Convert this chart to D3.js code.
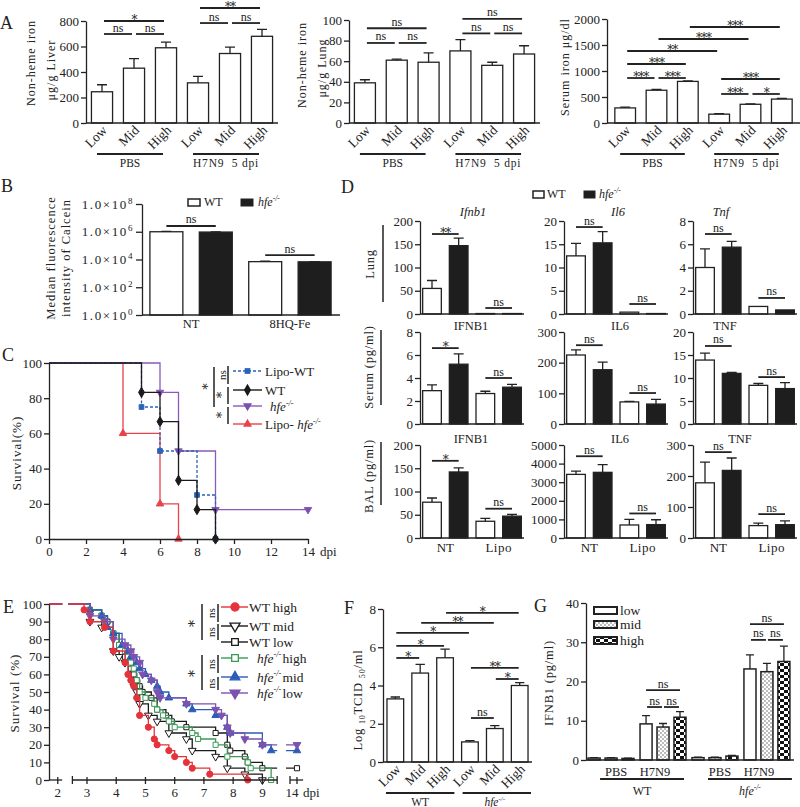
<!DOCTYPE html>
<html><head><meta charset="utf-8">
<script src="https://cdn.jsdelivr.net/npm/d3@7"></script>
<style>body{margin:0;background:#fff} text{-webkit-font-smoothing:antialiased;font-variant-emoji:text}</style>
</head><body><script>
// ================= DATA =================
// Panel A
const levelsA = ["Low","Mid","High"];
const catsA = ["PBS-Low","PBS-Mid","PBS-High","H7N9-Low","H7N9-Mid","H7N9-High"];
const liverIron = [245,430,590,315,545,680];
const liverErr  = [300,505,635,365,595,735];
const lungIron  = [39,61,59,70,56,67];
const lungErr   = [42,62,68,81,59,75];
const serumIron = [290,630,800,170,360,460];
const serumErr  = [305,645,810,180,368,475];
const liverSig = [[0,1,698,"ns"],[1,2,698,"ns"],[0,2,800,"*"],[3,4,784,"ns"],[4,5,784,"ns"],[3,5,902,"**"]];
const lungSig  = [[0,1,77.7,"ns"],[1,2,77.7,"ns"],[0,2,92,"ns"],[3,4,87,"ns"],[4,5,87,"ns"],[3,5,101,"ns"]];
const serumSig = [[0,1,865,"***"],[1,2,865,"***"],[0,2,1135,"***"],[0,3,1385,"**"],[1,4,1615,"***"],[2,5,1846,"***"],[3,4,558,"***"],[4,5,558,"*"],[3,5,846,"***"]];
// Panel B
const catsB = ["NT-WT","NT-hfe","8HQ-WT","8HQ-hfe"];
const groupsB = ["NT","8HQ-Fe"];
const calcein = [1.0e6, 0.95e6, 7.0e3, 6.8e3];
const calceinErr = [1.08e6, 0.97e6, 7.6e3, 7.0e3];
const bTicks = [1,1e2,1e4,1e6,1e8];
const bSig = [[0,1,2.6e6,"ns"],[2,3,2.1e4,"ns"]];
// Panel C
const cLipoWT  = [[5,75],[6,50],[8,25],[9,0]];
const cWT      = [[5,83.3],[6,66.7],[7,33.3],[8,16.7],[9,0]];
const cHfe     = [[6,83.3],[7,50],[9,16.7]];
const cLipoHfe = [[4,60],[6,20],[7,0]];
const cTicksX = [0,2,4,6,8,10,12,14];
const cTicksY = [0,20,40,60,80,100];
// Panel D
const dCats = ["NT-WT","NT-hfe","Lipo-WT","Lipo-hfe"];
const lungIfnb1 = [55,147,1,1],      lungIfnb1Err = [72,163,1,1];
const lungIl6   = [12.5,15.3,0.4,0.1], lungIl6Err = [15.2,17.7,0.4,0.1];
const lungTnf   = [4.0,5.75,0.65,0.35], lungTnfErr = [5.6,6.25,0.65,0.35];
const serIFNB1  = [2.9,5.2,2.65,3.2],  serIFNB1Err = [3.4,6.1,2.85,3.45];
const serIL6    = [225,177,72,65],     serIL6Err = [242,202,74,80];
const serTNF    = [13.9,11.0,8.4,7.7], serTNFErr = [15.4,11.2,8.8,9.0];
const balIFNB1  = [77,142,36,47],      balIFNB1Err = [86,151,42,51];
const balIL6    = [3420,3530,700,720], balIL6Err = [3600,3950,1000,980];
const balTNF    = [178,218,40,43],     balTNFErr = [245,258,48,55];
// Panel E
const wtHighSurv = [[2.9,96.7],[3.1,90],[3.6,86.7],[3.9,73.3],[4.3,66.7],[4.4,60],[4.5,56.7],[4.6,53.3],[4.7,46.7],[4.8,36.7],[5.1,30],[5.3,23.3],[5.4,20],[5.8,16.7],[6.0,13.3],[6.4,10],[6.6,6.7],[7.2,3.3],[8.5,0]];
const wtMidSurv  = [[3.1,90],[3.5,86.7],[3.9,73.3],[4.1,70],[4.3,66.7],[4.5,60],[4.6,53.3],[4.7,50],[4.8,43.3],[5.1,36.7],[5.4,33.3],[5.8,26.7],[6.4,23.3],[6.6,16.7],[7.4,13.3],[7.8,6.7],[8.4,3.3],[9.0,0]];
const wtLowSurv  = [[3.1,96.7],[3.5,93.3],[3.7,90],[3.9,83.3],[4.1,76.7],[4.3,70],[4.5,63.3],[4.6,60],[4.7,56.7],[4.8,53.3],[4.9,50],[5.2,46.7],[5.4,40],[5.7,36.7],[5.9,33.3],[6.4,30],[7.4,26.7],[7.8,20],[7.9,16.7],[8.4,13.3],[8.5,10],[9.0,6.7]];
const hfeHighSurv= [[3.1,96.7],[3.5,93.3],[3.6,90],[3.9,83.3],[4.1,76.7],[4.3,73.3],[4.4,70],[4.5,66.7],[4.6,63.3],[4.7,56.7],[4.8,50],[5.0,46.7],[5.3,43.3],[5.4,40],[5.6,36.7],[5.8,33.3],[6.0,30],[6.6,26.7],[6.8,23.3],[7.4,20],[7.8,13.3],[8.5,10],[8.6,6.7],[9.3,0]];
const hfeMidSurv = [[3.1,96.7],[3.5,93.3],[3.7,86.7],[3.9,83.3],[4.2,76.7],[4.4,73.3],[4.5,70],[4.7,66.7],[4.8,63.3],[5.0,60],[5.2,56.7],[5.4,53.3],[5.5,50],[5.8,46.7],[6.4,43.3],[6.6,40],[7.4,36.7],[7.8,30],[7.9,26.7],[9.0,20],[9.3,16.7]];
const hfeLowSurv = [[3.1,93.3],[3.6,90],[3.9,80],[4.3,76.7],[4.5,73.3],[4.6,70],[4.8,66.7],[4.9,60],[5.2,56.7],[5.4,50],[5.5,46.7],[6.4,43.3],[7.4,40],[7.6,36.7],[7.8,30],[7.9,26.7],[8.4,23.3],[9.0,20]];
const eTicksX = [2,3,4,5,6,7,8,9,14];
const eTicksY = [0,10,20,30,40,50,60,70,80,90,100];
// Panel F
const catsF = ["WT-Low","WT-Mid","WT-High","hfe-Low","hfe-Mid","hfe-High"];
const tcid = [3.3,4.65,5.45,1.05,1.75,4.0];
const tcidErr = [3.4,5.1,5.9,1.12,1.9,4.15];
const fSig = [[0,1,5.44,"*"],[0,2,6.07,"*"],[0,3,6.75,"*"],[1,4,7.27,"**"],[2,5,7.8,"*"],[3,4,2.3,"ns"],[3,5,4.92,"**"],[4,5,4.34,"*"]];
// Panel G
const gGroups = ["WT-PBS","WT-H7N9","hfe-PBS","hfe-H7N9"];
const gLevels = ["low","mid","high"];
const ifnbLow  = [0.5, 9.2, 0.6, 23.2], ifnbLowErr  = [0.6, 11.3, 0.7, 26.8];
const ifnbMid  = [0.5, 8.4, 0.6, 22.5], ifnbMidErr  = [0.6, 9.3, 0.7, 24.6];
const ifnbHigh = [0.4, 10.9, 1.0, 25.1], ifnbHighErr = [0.5, 12.3, 1.2, 29.0];
const gSig = [[1,0,1,13.5,"ns"],[1,1,2,13.5,"ns"],[1,0,2,17.8,"ns"],[3,0,1,30.6,"ns"],[3,1,2,30.6,"ns"],[3,0,2,34.6,"ns"]];

// ================= HELPERS =================
const FONT = "'Liberation Serif','DejaVu Serif',serif";
const STARFONT = "'DejaVu Serif','Liberation Serif',serif";
const INK = "#222";
const svg = d3.select("body").append("svg").attr("width",800).attr("height",807).attr("font-family",FONT);
const defs = svg.append("defs");

function txt(g,x,y,s,o={}){
  const t=g.append("text").attr("x",x).attr("y",y).attr("font-size",o.size||12)
    .attr("text-anchor",o.anchor||"middle").attr("fill",o.fill||INK).text(s);
  if(o.ls) t.attr("letter-spacing",o.ls);
  if(o.italic) t.attr("font-style","italic");
  if(o.font) t.attr("font-family",o.font);
  if(o.rotate) t.attr("transform",`rotate(${o.rotate},${x},${y})`);
  return t;
}
function star(g,x,y,s,o={}){ return txt(g,x,y,s,Object.assign({font:STARFONT,size:12,ls:-1},o)); }
function hfe(g,x,y,o={},prefix=""){
  const t=txt(g,x,y,"",o); const s=o.size||12;
  if(prefix) t.append("tspan").text(prefix);
  t.append("tspan").attr("font-style","italic").text("hfe");
  t.append("tspan").attr("font-style","italic").attr("font-size",s*0.62).attr("dy",-s*0.42).text("-/-");
  return t;
}
function yAxis(x, scale, ticks, o={}){
  const ax=d3.axisLeft(scale).tickValues(ticks).tickSize(o.ts||5).tickSizeOuter(0).tickPadding(o.tp||2)
    .tickFormat(o.fmt||d3.format("d"));
  const g=svg.append("g").attr("transform",`translate(${x},0)`).call(ax);
  g.attr("font-family",null).attr("font-size",null);
  g.select(".domain").attr("stroke",INK).attr("stroke-width",1.3);
  g.selectAll(".tick line").attr("stroke",INK).attr("stroke-width",1.3);
  g.selectAll(".tick text").attr("font-size",o.fs||13).attr("fill",INK).attr("font-family",FONT);
  return g;
}
function sigBar(g,x1,x2,yy,label,fs){
  g.append("line").attr("x1",x1).attr("x2",x2).attr("y1",yy).attr("y2",yy).attr("stroke",INK).attr("stroke-width",1.8);
  if(label.includes("*")) star(g,(x1+x2)/2, yy+3, label,{size:(fs||12)});
  else txt(g,(x1+x2)/2, yy-2.5, label,{size:(fs||12)});
}
function barChart(o){
  const x=d3.scaleBand().domain(o.cats).range([o.x0,o.x1]).paddingInner(o.pI).paddingOuter(o.pO);
  const y=d3.scaleLinear().domain([0,o.max]).range([o.yBot,o.yTop]);
  const g=svg.append("g"); const bw=x.bandwidth();
  g.selectAll("rect").data(o.vals).join("rect")
   .attr("x",(d,i)=>x(o.cats[i])).attr("y",d=>y(d)).attr("width",bw).attr("height",d=>Math.max(0,y(0)-y(d)))
   .attr("fill",(d,i)=>o.fills?o.fills[i]:"#fff").attr("stroke",INK).attr("stroke-width",1.3);
  const cap=o.cap||Math.min(5,bw*0.28);
  g.selectAll("path.err").data(o.errs).join("path").attr("class","err")
   .attr("d",(e,i)=>{const cx=x(o.cats[i])+bw/2; if(e<=o.vals[i]) return null;
      return `M${cx},${y(o.vals[i])}V${y(e)}M${cx-cap},${y(e)}H${cx+cap}`;})
   .attr("stroke",INK).attr("stroke-width",1.3).attr("fill","none");
  g.append("line").attr("x1",o.x0).attr("x2",o.xEnd||o.x1).attr("y1",y(0)).attr("y2",y(0)).attr("stroke",INK).attr("stroke-width",1.3);
  yAxis(o.x0,y,o.ticks,{fs:o.fs});
  const cx=i=>x(o.cats[i])+bw/2;
  const si=o.si||0;
  (o.sig||[]).forEach(s=>sigBar(g,cx(s[0])+si,cx(s[1])-si,y(s[2]),s[3],o.sfs));
  return {x,y,g,bw,cx};
}
function rotLabels(ch, labels, y, fs){
  ch.x.domain().forEach((c,i)=>txt(svg, ch.cx(i)+6, y, labels[i], {size:fs||13.5, anchor:"end", rotate:-45}));
}
function hline(x1,x2,y,w){ svg.append("line").attr("x1",x1).attr("x2",x2).attr("y1",y).attr("y2",y).attr("stroke",INK).attr("stroke-width",w||1.8); }
function vline(x,y1,y2,w){ svg.append("line").attr("x1",x).attr("x2",x).attr("y1",y1).attr("y2",y2).attr("stroke",INK).attr("stroke-width",w||1.5); }

// ================= PANEL A =================
txt(svg,0,29,"A",{size:18,anchor:"start"});
const chartsA = [
  {x0:86,x1:278,vals:liverIron,errs:liverErr,max:800,ticks:[0,200,400,600,800],sig:liverSig,yTop:21,
   lab:[["Non-heme iron",35,63],["μg/g Liver",55,70]]},
  {x0:349,x1:540,vals:lungIron,errs:lungErr,max:100,ticks:[0,20,40,60,80,100],sig:lungSig,yTop:20,
   lab:[["Non-heme iron",306,65],["μg/g Lung",326,68]]},
  {x0:607,x1:800,vals:serumIron,errs:serumErr,max:2000,ticks:[0,500,1000,1500,2000],sig:serumSig,yTop:19,pO:0.25,
   lab:[["Serum iron μg/dl",569,67]]}
];
chartsA.forEach(c=>{
  const ch=barChart({x0:c.x0,x1:c.x1,yTop:c.yTop,yBot:123,max:c.max,ticks:c.ticks,cats:catsA,vals:c.vals,errs:c.errs,
    pI:0.34,pO:c.pO||0.17,sig:c.sig,si:2});
  rotLabels(ch, catsA.map((d,i)=>levelsA[i%3]), 131);
  const l1=ch.cx(0)-5, r1=ch.cx(2)-3, l2=ch.cx(3)-5, r2=ch.cx(5)-3;
  hline(l1,r1,154,1.8); hline(l2,r2,154,1.8);
  txt(svg,(l1+r1)/2,167,"PBS",{size:11.5});
  txt(svg,(l2+r2)/2,167,"H7N9\u00a0\u00a05 dpi",{size:11.5,ls:0.8});
  c.lab.forEach(l=>txt(svg,l[1],l[2],l[0],{size:12,rotate:-90,ls:1}));
});

// ================= PANEL B =================
txt(svg,1,192,"B",{size:18,anchor:"start"});
{
  const x=d3.scaleBand().domain(catsB).range([142,339]).paddingInner(0.333).paddingOuter(0.16);
  const y=d3.scaleLog().domain([1,1e8]).range([315,204]);
  const g=svg.append("g"); const bw=x.bandwidth();
  g.selectAll("rect").data(calcein).join("rect")
   .attr("x",(d,i)=>x(catsB[i])).attr("y",d=>y(d)).attr("width",bw).attr("height",d=>y(1)-y(d))
   .attr("fill",(d,i)=>i%2?"#1e1e1e":"#fff").attr("stroke",INK).attr("stroke-width",1.3);
  g.selectAll("path.err").data(calceinErr).join("path")
   .attr("d",(e,i)=>{const cx=x(catsB[i])+bw/2; return `M${cx},${y(calcein[i])}V${y(e)}M${cx-5},${y(e)}H${cx+5}`;})
   .attr("stroke",INK).attr("stroke-width",1.2);
  g.append("line").attr("x1",142).attr("x2",340).attr("y1",y(1)).attr("y2",y(1)).attr("stroke",INK).attr("stroke-width",1.3);
  const ax=yAxis(142,y,bTicks,{ts:6,tp:2,fmt:d=>""});
  ax.selectAll(".tick text").each(function(d){
    const t=d3.select(this); t.text(null).attr("letter-spacing",1.6).attr("font-size",13);
    t.append("tspan").text("1.0×10");
    t.append("tspan").attr("font-size",9).attr("dy",-5).text(Math.round(Math.log10(d)));
  });
  const cx=i=>x(catsB[i])+bw/2;
  bSig.forEach(s=>sigBar(g,cx(s[0]),cx(s[1]),y(s[2]),s[3]));
  groupsB.forEach((gname,k)=>txt(svg,(cx(2*k)+cx(2*k+1))/2,328,gname,{size:12.5}));
  // legend
  svg.append("rect").attr("x",188).attr("y",199).attr("width",12).attr("height",7).attr("fill","#fff").attr("stroke",INK).attr("stroke-width",1.5);
  txt(svg,204,206,"WT",{size:12,anchor:"start"});
  svg.append("rect").attr("x",241).attr("y",199).attr("width",12).attr("height",7).attr("fill","#1e1e1e").attr("stroke",INK);
  hfe(svg,258,206,{size:12,anchor:"start"});
  txt(svg,55,258,"Median fluorescence",{size:12.5,rotate:-90,ls:1});
  txt(svg,70,258,"intensity of Calcein",{size:12.5,rotate:-90,ls:1});
}

// ================= PANEL C =================
txt(svg,2,361,"C",{size:18,anchor:"start"});
function kmCurve(g, xs, ys, start, pts, censor, st){
  const last=pts[pts.length-1][1];
  const all=[[start,100],...pts]; if(censor!=null) all.push([censor,last]);
  g.append("path").datum(all).attr("d", d3.line().x(d=>xs(d[0])).y(d=>ys(d[1])).curve(d3.curveStepAfter))
   .attr("fill","none").attr("stroke",st.color).attr("stroke-width",st.w||1.3).attr("stroke-dasharray",st.dash||null);
  const mk = censor!=null ? [...pts,[censor,last]] : pts;
  g.selectAll(null).data(mk).join("path")
   .attr("transform",d=>`translate(${xs(d[0])},${ys(d[1])})${st.inv?" rotate(180)":""}`)
   .attr("d", d3.symbol().type(st.sym).size(st.size||26))
   .attr("fill",st.fill).attr("stroke",st.color).attr("stroke-width",1);
}
const cStyles = {
  lipoWT:{color:"#2a62b8",sym:d3.symbolSquare,fill:"#2a62b8",dash:"3,2",size:22},
  wt:{color:"#1a1a1a",sym:d3.symbolDiamond,fill:"#1a1a1a",size:30},
  hfe:{color:"#8a5ab8",sym:d3.symbolTriangle,fill:"#7a4fb0",inv:true,size:24},
  lipoHfe:{color:"#e8424b",sym:d3.symbolTriangle,fill:"#e8424b",size:24}
};
{
  const xs=d3.scaleLinear().domain([0,14]).range([49,308]);
  const ys=d3.scaleLinear().domain([0,100]).range([539,363]);
  const g=svg.append("g");
  kmCurve(g,xs,ys,0,cLipoHfe,null,cStyles.lipoHfe);
  kmCurve(g,xs,ys,0,cHfe,14,cStyles.hfe);
  kmCurve(g,xs,ys,0,cLipoWT,null,cStyles.lipoWT);
  kmCurve(g,xs,ys,0,cWT,null,cStyles.wt);
  yAxis(49,ys,cTicksY,{fs:13});
  const xa=svg.append("g").attr("transform","translate(0,539)")
    .call(d3.axisBottom(xs).tickValues(cTicksX).tickSize(5).tickSizeOuter(0).tickPadding(3));
  xa.attr("font-family",null).attr("font-size",null);
  xa.select(".domain").attr("stroke",INK).attr("stroke-width",1.3);
  xa.selectAll(".tick line").attr("stroke",INK).attr("stroke-width",1.3);
  xa.selectAll(".tick text").attr("font-size",13).attr("fill",INK).attr("font-family",FONT);
  txt(svg,320,556,"dpi",{size:13,anchor:"start"});
  txt(svg,21,453,"Survival(%)",{size:13,rotate:-90,ls:1});
  // legend
  const legC=[["lipoWT",371,"Lipo-WT"],["wt",390,"WT"],["hfe",406,"hfe"],["lipoHfe",424,"Lipo-hfe"]];
  legC.forEach(([k,yy,label])=>{
    const st=cStyles[k];
    svg.append("line").attr("x1",233).attr("x2",262).attr("y1",yy).attr("y2",yy).attr("stroke",st.color).attr("stroke-width",1.4).attr("stroke-dasharray",st.dash||null);
    svg.append("path").attr("transform",`translate(247.5,${yy})${st.inv?" rotate(180)":""}`).attr("d",d3.symbol().type(st.sym).size((st.size||26)*1.5)()).attr("fill",st.fill);
    if(label==="hfe") hfe(svg,270,yy+5,{size:13,anchor:"start"});
    else if(label==="Lipo-hfe") hfe(svg,265,yy+5,{size:13,anchor:"start"},"Lipo- ");
    else txt(svg,265,yy+5,label,{size:13,anchor:"start"});
  });
  vline(214,367,407); star(svg,212,387,"*",{size:13,rotate:-90});
  vline(228,366,384); txt(svg,226,375,"ns",{size:11,rotate:-90});
  vline(228,387,404); star(svg,226,395.5,"*",{size:13,rotate:-90});
  vline(228,407,424); star(svg,226,415.5,"*",{size:13,rotate:-90});
}

// ================= PANEL D =================
txt(svg,341,193,"D",{size:18,anchor:"start"});
svg.append("rect").attr("x",533).attr("y",191).attr("width",11).attr("height",7).attr("fill","#fff").attr("stroke",INK).attr("stroke-width",1.5);
txt(svg,547,198,"WT",{size:12,anchor:"start"});
svg.append("rect").attr("x",584).attr("y",191).attr("width",11).attr("height",7).attr("fill","#1e1e1e").attr("stroke",INK);
hfe(svg,599,198,{size:12,anchor:"start"});
const dCols=[420,564,693];
const dRows=[
  {yTop:221,yBot:314,tY:216,italic:true,titles:["Ifnb1","Il6","Tnf"],tX:[473,618,721],
   vals:[lungIfnb1,lungIl6,lungTnf],errs:[lungIfnb1Err,lungIl6Err,lungTnfErr],max:[200,20,8],
   ticks:[[0,50,100,150,200],[0,5,10,15,20],[0,2,4,6,8]],
   sig:[[[0,1,172,"**"],[2,3,12.9,"ns"]],[[0,1,18.7,"ns"],[2,3,2.15,"ns"]],[[0,1,6.88,"ns"],[2,3,1.38,"ns"]]]},
  {yTop:332,yBot:424,tY:330,italic:false,titles:["IFNB1","IL6","TNF"],tX:[471,620,725],
   vals:[serIFNB1,serIL6,serTNF],errs:[serIFNB1Err,serIL6Err,serTNFErr],max:[8,300,20],
   ticks:[[0,2,4,6,8],[0,100,200,300],[0,5,10,15,20]],
   sig:[[[0,1,6.6,"*"],[2,3,4.0,"ns"]],[[0,1,257,"ns"],[2,3,101,"ns"]],[[0,1,16.96,"ns"],[2,3,10.2,"ns"]]]},
  {yTop:445,yBot:538,tY:443,italic:false,titles:["IFNB1","IL6","TNF"],tX:[471,620,740],
   vals:[balIFNB1,balIL6,balTNF],errs:[balIFNB1Err,balIL6Err,balTNFErr],max:[200,5000,300],
   ticks:[[0,50,100,150,200],[0,1000,2000,3000,4000,5000],[0,100,200,300]],
   sig:[[[0,1,166,"*"],[2,3,63,"ns"]],[[0,1,4396,"ns"],[2,3,1319,"ns"]],[[0,1,277,"ns"],[2,3,77,"ns"]]]}
];
dRows.forEach((r,ri)=>{
  dCols.forEach((x0,ci)=>{
    const ch=barChart({x0:x0,x1:x0+104,yTop:r.yTop,yBot:r.yBot,max:r.max[ci],ticks:r.ticks[ci],cats:dCats,
      vals:r.vals[ci],errs:r.errs[ci],fills:["#fff","#1e1e1e","#fff","#1e1e1e"],pI:0.3,pO:0.1,sig:r.sig[ci],sfs:12});
    txt(svg,r.tX[ci],r.tY,r.titles[ci],{size:12.5,italic:r.italic});
    if(ri===2){
      txt(svg,(ch.cx(0)+ch.cx(1))/2,552,"NT",{size:13});
      txt(svg,(ch.cx(2)+ch.cx(3))/2,552,"Lipo",{size:13,ls:0.5});
    }
  });
});
vline(383,225,302,1.5); txt(svg,374,264,"Lung",{size:12.5,rotate:-90,ls:0.8});
vline(381,330,405,1.5); txt(svg,373,367,"Serum (pg/ml)",{size:12.5,rotate:-90,ls:0.8});
vline(381,442,505,1.5); txt(svg,373,476,"BAL (pg/ml)",{size:12.5,rotate:-90,ls:0.8});

// ================= PANEL E =================
txt(svg,3,613,"E",{size:18,anchor:"start"});
{
  const xs=d3.scaleLinear().domain([1.7,9.5,13.6,14]).range([49,277,290,297]);
  const ys=d3.scaleLinear().domain([0,100]).range([780,604]);
  const segs=[[1.7,2.15],[2.5,9.55],[13.6,14.35]];
  const clip=defs.append("clipPath").attr("id","clipE");
  segs.forEach(s=>clip.append("rect").attr("x",xs(s[0])-4).attr("y",590).attr("width",xs(s[1])-xs(s[0])+4).attr("height",200));
  const g=svg.append("g").attr("clip-path","url(#clipE)");
  const eStyles=[
    {pts:wtMidSurv,c:null,st:{color:"#1a1a1a",sym:d3.symbolTriangle,fill:"#fff",inv:true,size:26}},
    {pts:wtLowSurv,c:14,st:{color:"#1a1a1a",sym:d3.symbolSquare,fill:"#fff",size:26}},
    {pts:hfeHighSurv,c:null,st:{color:"#3a9a55",sym:d3.symbolSquare,fill:"#fff",size:26}},
    {pts:hfeMidSurv,c:14,st:{color:"#2a5cb8",sym:d3.symbolTriangle,fill:"#2a5cb8",size:24}},
    {pts:hfeLowSurv,c:14,st:{color:"#7b52b0",sym:d3.symbolTriangle,fill:"#7b52b0",inv:true,size:26}},
    {pts:wtHighSurv,c:null,st:{color:"#e5323b",sym:d3.symbolCircle,fill:"#e5323b",size:30}}
  ];
  eStyles.forEach(s=>kmCurve(g,xs,ys,1.7,s.pts,s.c,s.st));
  yAxis(49,ys,eTicksY,{fs:13});
  segs.forEach(s=>{
    svg.append("line").attr("x1",xs(s[0])).attr("x2",xs(s[1])).attr("y1",780).attr("y2",780).attr("stroke",INK).attr("stroke-width",1.3);
  });
  [2.5,9.55,13.6].forEach(t=>vline(xs(t),776,784,1.3));
  eTicksX.forEach(t=>{ vline(xs(t),777,784,1.3); txt(svg,xs(t)-(t===14?5:0),797,String(t),{size:13}); });
  txt(svg,303,797,"dpi",{size:13,anchor:"start"});
  txt(svg,19,693,"Survival (%)",{size:13,rotate:-90,ls:1});
  // legend
  const legE=[[0,607,"WT high"],[1,626,"WT mid"],[2,642,"WT low"],[3,658,"high"],[4,677,"mid"],[5,693,"low"]];
  const order=[5,0,1,2,3,4];
  legE.forEach(([k,yy,label])=>{
    const st=eStyles[order[k]].st;
    svg.append("line").attr("x1",221).attr("x2",248).attr("y1",yy).attr("y2",yy).attr("stroke",st.color).attr("stroke-width",1.4);
    svg.append("path").attr("transform",`translate(235,${yy})${st.inv?" rotate(180)":""}`).attr("d",d3.symbol().type(st.sym).size(st.size*1.7)())
      .attr("fill",st.fill).attr("stroke",st.color).attr("stroke-width",1.3);
    if(k<3) txt(svg,249,yy+5,label,{size:13.5,anchor:"start"});
    else { const t=hfe(svg,257,yy+5,{size:13.5,anchor:"start"}); t.append("tspan").attr("dy",13.5*0.42).attr("dx",1).text(label); }
  });
  vline(202,604,640); star(svg,199,624,"*",{size:14,rotate:-90});
  vline(218,604,622); txt(svg,215,613,"ns",{size:11,rotate:-90});
  vline(218,624,640); txt(svg,215,632,"ns",{size:11,rotate:-90});
  vline(202,655,690); star(svg,199,674,"*",{size:14,rotate:-90});
  vline(218,655,673); txt(svg,215,664,"ns",{size:11,rotate:-90});
  vline(218,677,690); txt(svg,215,683.5,"ns",{size:11,rotate:-90});
}

// ================= PANEL F =================
txt(svg,344,614,"F",{size:18,anchor:"start"});
{
  const ch=barChart({x0:383,x1:532,yTop:609,yBot:762,max:8,ticks:[0,2,4,6,8],cats:catsF,vals:tcid,errs:tcidErr,
    pI:0.33,pO:0.16,sig:fSig,si:1});
  rotLabels(ch, catsF.map((d,i)=>levelsA[i%3]), 770);
  const bw=ch.bw;
  hline(ch.x(catsF[0])-1, ch.x(catsF[2])+bw+1, 793, 1.8);
  hline(ch.x(catsF[3])+1, ch.x(catsF[5])+bw+3, 793, 1.8);
  txt(svg,(ch.x(catsF[0])+ch.x(catsF[2])+bw)/2,806,"WT",{size:11.5});
  hfe(svg,(ch.x(catsF[3])+ch.x(catsF[5])+bw)/2,806,{size:11.5});
  const t=txt(svg,362,700,"",{size:12.5,rotate:-90,ls:0.8});
  t.append("tspan").text("Log ");
  t.append("tspan").attr("font-size",8).attr("dy",3).text("10");
  t.append("tspan").attr("dy",-3).text("TCID ");
  t.append("tspan").attr("font-size",8).attr("dy",3).text("50");
  t.append("tspan").attr("dy",-3).text("/ml");
}

// ================= PANEL G =================
txt(svg,534,612,"G",{size:18,anchor:"start"});
{
  const pd=defs.append("pattern").attr("id","dots").attr("width",4).attr("height",4).attr("patternUnits","userSpaceOnUse");
  pd.append("rect").attr("width",4).attr("height",4).attr("fill","#fff");
  pd.append("circle").attr("cx",1).attr("cy",1).attr("r",0.7).attr("fill","#444");
  pd.append("circle").attr("cx",3).attr("cy",3).attr("r",0.7).attr("fill","#444");
  const pc=defs.append("pattern").attr("id","checks").attr("width",8).attr("height",6).attr("patternUnits","userSpaceOnUse");
  pc.append("rect").attr("width",8).attr("height",6).attr("fill","#fff");
  pc.append("rect").attr("width",4).attr("height",3).attr("fill","#111");
  pc.append("rect").attr("x",4).attr("y",3).attr("width",4).attr("height",3).attr("fill","#111");
  const fillsG=["#fff","url(#dots)","url(#checks)"];
  const valsG=[ifnbLow,ifnbMid,ifnbHigh], errsG=[ifnbLowErr,ifnbMidErr,ifnbHighErr];
  const xo=d3.scaleBand().domain(gGroups).range([586,792]).paddingInner(0.115).paddingOuter(0.04);
  const xi=d3.scaleBand().domain(gLevels).range([0,xo.bandwidth()]).paddingInner(0.29).paddingOuter(0);
  const y=d3.scaleLinear().domain([0,40]).range([760,603]);
  const g=svg.append("g"); const bw=xi.bandwidth();
  const flat=[]; gGroups.forEach((gg,i)=>gLevels.forEach((l,j)=>flat.push({g:gg,l:l,j:j,v:valsG[j][i],e:errsG[j][i]})));
  g.selectAll("rect").data(flat).join("rect")
   .attr("x",d=>xo(d.g)+xi(d.l)).attr("y",d=>y(d.v)).attr("width",bw).attr("height",d=>y(0)-y(d.v))
   .attr("fill",d=>fillsG[d.j]).attr("stroke",INK).attr("stroke-width",1.5);
  g.selectAll("path.err").data(flat).join("path")
   .attr("d",d=>{const cx=xo(d.g)+xi(d.l)+bw/2; return `M${cx},${y(d.v)}V${y(d.e)}M${cx-4},${y(d.e)}H${cx+4}`;})
   .attr("stroke",INK).attr("stroke-width",1.3);
  g.append("line").attr("x1",586).attr("x2",794).attr("y1",y(0)).attr("y2",y(0)).attr("stroke",INK).attr("stroke-width",1.3);
  yAxis(586,y,[0,10,20,30,40],{fs:13});
  const cx=(gi,li)=>xo(gGroups[gi])+xi(gLevels[li])+bw/2;
  gSig.forEach(s=>{const a=cx(s[0],s[1])+(s[2]-s[1]===1?1:0), b=cx(s[0],s[2])-(s[2]-s[1]===1?1:0); sigBar(g,a,b,y(s[3]),s[4],12);});
  const gc=i=>xo(gGroups[i])+xo.bandwidth()/2;
  ["PBS","H7N9","PBS","H7N9"].forEach((l,i)=>txt(svg,gc(i)+(i%2?-8:5),776,l,{size:12.5}));
  hline(xo(gGroups[0])+12, xo(gGroups[1])+xo.bandwidth()-2, 779, 1.8);
  hline(xo(gGroups[2])+16, xo(gGroups[3])+xo.bandwidth()+2, 779, 1.8);
  txt(svg,(xo(gGroups[0])+12+xo(gGroups[1])+xo.bandwidth()-2)/2,795,"WT",{size:12});
  hfe(svg,(xo(gGroups[2])+16+xo(gGroups[3])+xo.bandwidth()+2)/2,795,{size:12});
  // legend
  [[607,"low"],[621,"mid"],[637,"high"]].forEach(([yy,l],j)=>{
    svg.append("rect").attr("x",594).attr("y",yy).attr("width",23).attr("height",7).attr("fill",fillsG[j]).attr("stroke",INK).attr("stroke-width",2);
    txt(svg,620,yy+7.5,l,{size:13.5,anchor:"start"});
  });
  txt(svg,553,683,"IFNB1 (pg/ml)",{size:12.5,rotate:-90,ls:0.8});
}
</script></body></html>
